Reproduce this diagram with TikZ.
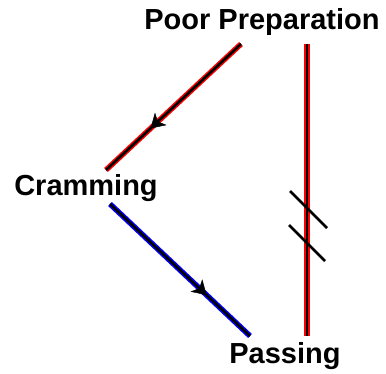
\documentclass[tikz,border=0pt]{standalone}
\usepackage{fontspec}
\setmainfont{Liberation Sans}
\usetikzlibrary{arrows.meta,decorations.markings}
\begin{document}
\begin{tikzpicture}[x=1pt,y=-1pt,
  lbl/.style={font=\fontsize{29}{29}\selectfont\bfseries, inner sep=0pt, anchor=base},
  edgeout/.style={line width=5.5pt},
  core/.style={line width=2.6pt, black},
  midarrow/.style={postaction={decorate, decoration={markings,
     mark=at position #1 with {\arrow{Stealth[length=14pt,width=17pt,inset=4pt]}}}}},
  slash/.style={line width=2.6pt, black}
]
\useasboundingbox (0,0) rectangle (386,374);
\node[lbl] (pp) at (262,30) {Poor Preparation};
\node[lbl] (cr) at (86,196) {Cramming};
\node[lbl] (pa) at (285,363) {Passing};
\coordinate (a1) at (241,44);
\coordinate (a2) at (106,170);
\coordinate (b1) at (110,204);
\coordinate (b2) at (250,336);
\coordinate (c1) at (307,44);
\coordinate (c2) at (307,336);
\coordinate (s1a) at (290,191);
\coordinate (s1b) at (327,228);
\coordinate (s2a) at (289,225);
\coordinate (s2b) at (325,261);
\draw[edgeout, red] (a1) -- (a2);
\draw[core] (a1) -- (a2);
\draw[edgeout, blue] (b1) -- (b2);
\draw[core] (b1) -- (b2);
\draw[edgeout, red] (c1) -- (c2);
\draw[core] (c1) -- (c2);
\draw[slash] (s1a) -- (s1b);
\draw[slash] (s2a) -- (s2b);
\path[midarrow=0.67] (a1) -- (a2);
\path[midarrow=0.69] (b1) -- (b2);
\end{tikzpicture}
\end{document}
